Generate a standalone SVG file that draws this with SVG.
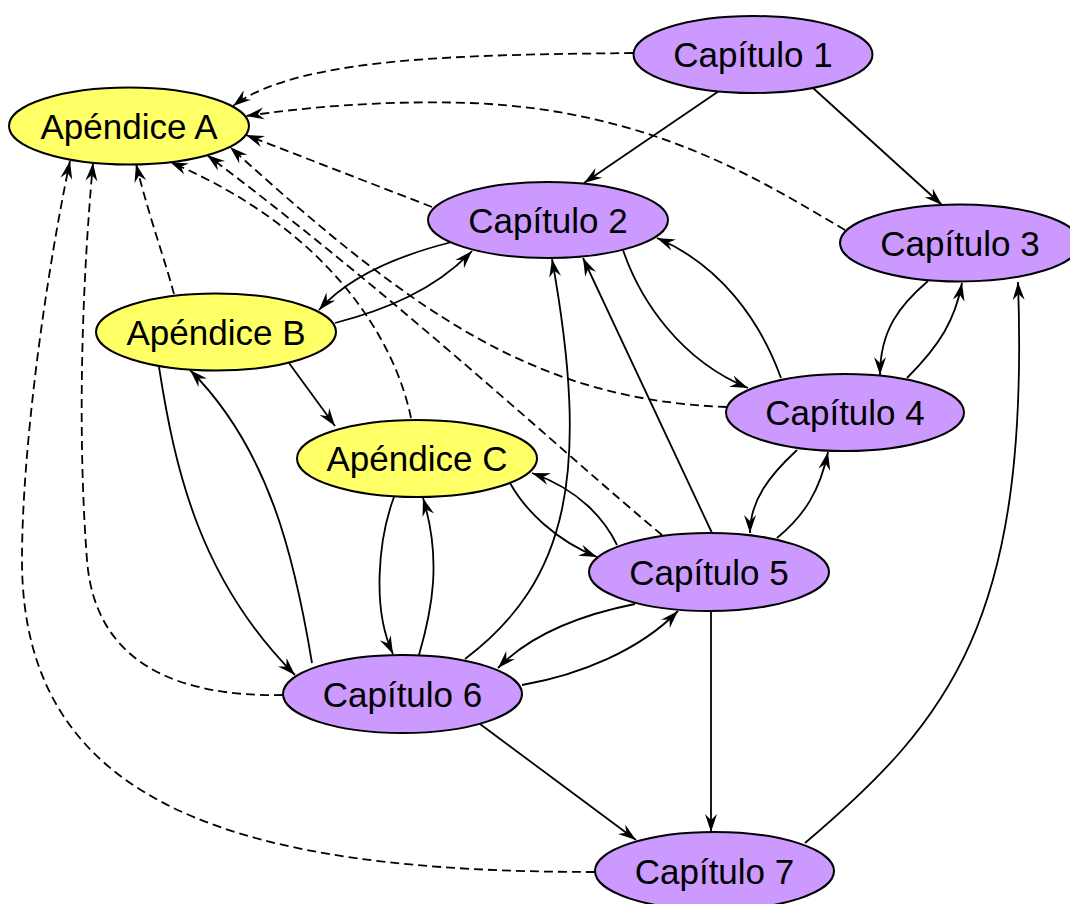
<svg xmlns="http://www.w3.org/2000/svg" width="1070" height="904" viewBox="0 0 1070 904">
  <defs>
    <marker id="arrow" markerUnits="userSpaceOnUse" viewBox="-20 -8 21 16" refX="0" refY="0" markerWidth="21" markerHeight="16" orient="auto">
      <path d="M0,0 L-18,-6 L-12,0 L-18,6 Z" fill="#000"/>
    </marker>
  </defs>
  <style>
    .e { fill: none; stroke: #000; stroke-width: 1.8; marker-end: url(#arrow); }
    .d { fill: none; stroke: #000; stroke-width: 1.8; stroke-dasharray: 9 5; marker-end: url(#arrow); }
    .node ellipse { stroke: #000; stroke-width: 2; }
    .cap ellipse { fill: #cc99ff; }
    .ap ellipse { fill: #ffff66; }
    .node text { font-family: "Liberation Sans", Arial, sans-serif; font-size: 35px; text-anchor: middle; fill: #000; }
  </style>
  <rect width="1070" height="904" fill="#fff"/>

  <!-- connectors -->
  <g id="edges">
    <!-- dependencies on Apéndice A (dashed) -->
    <path class="d" d="M633,53 C480,55 300,55 233,106"/>
    <path class="d" d="M845,230 C760,180 650,110 470,103 C380,100 300,108 246,116"/>
    <path class="d" d="M432,207 L246,135"/>
    <path class="d" d="M174,294 C165,260 150,220 136,164"/>
    <path class="d" d="M411,418 C395,340 330,230 170,162"/>
    <path class="d" d="M727,407 C540,400 420,320 230,147"/>
    <path class="d" d="M662,535 C560,450 400,300 207,155"/>
    <path class="d" d="M283,695 C180,697 95,665 87,560 C80,470 78,330 93,163"/>
    <path class="d" d="M595,872 C245,872 22,810 22,560 C22,450 45,280 70,161"/>

    <!-- chapter and appendix dependencies (solid) -->
    <path class="e" d="M719,91 L584,183"/>
    <path class="e" d="M813,88 L942,205"/>
    <path class="e" d="M452,242 C400,255 350,275 319,310"/>
    <path class="e" d="M335,323 C385,310 435,290 472,251"/>
    <path class="e" d="M623,250 C640,300 680,360 748,388"/>
    <path class="e" d="M781,378 C760,320 720,265 657,238"/>
    <path class="e" d="M928,281 C900,305 880,330 880,375"/>
    <path class="e" d="M907,378 C940,345 955,320 962,283"/>
    <path class="e" d="M797,450 C770,475 750,500 750,533"/>
    <path class="e" d="M777,538 C805,515 820,490 828,452"/>
    <path class="e" d="M805,843 C950,720 1030,620 1018,282"/>
    <path class="e" d="M712,533 L583,258"/>
    <path class="e" d="M465,659 C570,580 590,470 552,259"/>
    <path class="e" d="M289,363 L335,426"/>
    <path class="e" d="M159,367 C175,470 200,580 295,675"/>
    <path class="e" d="M312,663 C295,560 270,450 190,370"/>
    <path class="e" d="M394,497 C378,540 372,610 393,654"/>
    <path class="e" d="M419,655 C432,610 442,560 423,498"/>
    <path class="e" d="M510,483 C525,510 555,540 597,557"/>
    <path class="e" d="M617,545 C605,520 580,490 532,473"/>
    <path class="e" d="M635,604 C580,615 530,635 498,668"/>
    <path class="e" d="M522,685 C580,675 640,650 678,611"/>
    <path class="e" d="M711,611 L711,832"/>
    <path class="e" d="M480,724 L636,840"/>
  </g>

  <!-- nodes -->
  <g id="cap1" class="node cap">
    <ellipse cx="753" cy="54.5" rx="119.5" ry="38.5"/>
    <text x="753" y="67">Capítulo 1</text>
  </g>
  <g id="apA" class="node ap">
    <ellipse cx="129" cy="126" rx="120" ry="38.5"/>
    <text x="129" y="138.5">Apéndice A</text>
  </g>
  <g id="cap2" class="node cap">
    <ellipse cx="548" cy="220" rx="120" ry="38"/>
    <text x="548" y="232.5">Capítulo 2</text>
  </g>
  <g id="cap3" class="node cap">
    <ellipse cx="960" cy="243" rx="120" ry="38.5"/>
    <text x="960" y="255.5">Capítulo 3</text>
  </g>
  <g id="apB" class="node ap">
    <ellipse cx="216" cy="332" rx="120" ry="38.5"/>
    <text x="216" y="344.5">Apéndice B</text>
  </g>
  <g id="cap4" class="node cap">
    <ellipse cx="845" cy="412.5" rx="119" ry="38.5"/>
    <text x="845" y="425">Capítulo 4</text>
  </g>
  <g id="apC" class="node ap">
    <ellipse cx="417" cy="458.5" rx="120" ry="38.5"/>
    <text x="417" y="471">Apéndice C</text>
  </g>
  <g id="cap5" class="node cap">
    <ellipse cx="709" cy="572" rx="120" ry="39"/>
    <text x="709" y="584.5">Capítulo 5</text>
  </g>
  <g id="cap6" class="node cap">
    <ellipse cx="402.5" cy="694" rx="119.5" ry="39"/>
    <text x="402.5" y="706.5">Capítulo 6</text>
  </g>
  <g id="cap7" class="node cap">
    <ellipse cx="714.5" cy="871" rx="119.5" ry="39"/>
    <text x="714.5" y="883.5">Capítulo 7</text>
  </g>
</svg>
